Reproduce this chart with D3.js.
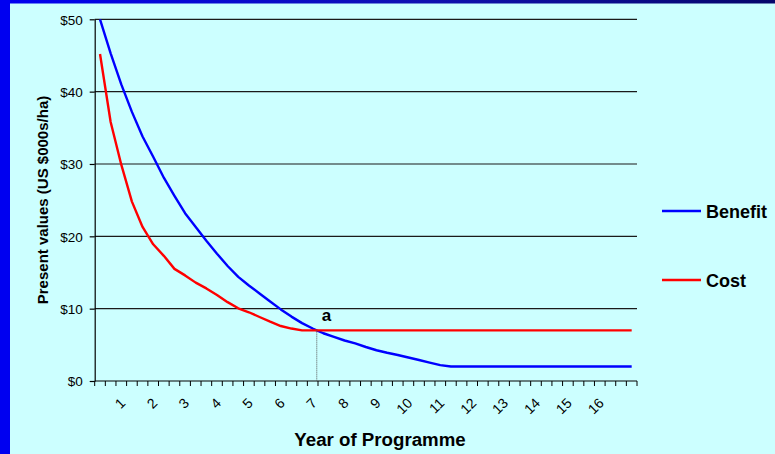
<!DOCTYPE html>
<html>
<head>
<meta charset="utf-8">
<script src="https://cdn.jsdelivr.net/npm/d3@7"></script>
<style>
  html, body { margin: 0; padding: 0; background: #ccffff; }
  svg { display: block; font-family: "Liberation Sans", Arial, sans-serif; }
</style>
</head>
<body>
<svg id="chart" width="775" height="454"></svg>
<script>
// Periods of the programme (three per year); only every third carries a year label
const periods = [
  "", "", "1", "", "", "2", "", "", "3", "", "", "4", "", "", "5", "", "",
  "6", "", "", "7", "", "", "8", "", "", "9", "", "", "10", "", "", "11",
  "", "", "12", "", "", "13", "", "", "14", "", "", "15", "", "", "16",
  "", "", ""
];

// Present value of benefits (US $000s/ha)
const benefit = [
  50, 45.3, 41.0, 37.2, 33.8, 31.0, 28.1, 25.6, 23.2, 21.3,
  19.4, 17.6, 15.9, 14.4, 13.2, 12.1, 11.0, 9.9, 8.9, 8.0,
  7.25, 6.6, 6.1, 5.6, 5.2, 4.7, 4.25, 3.9, 3.6, 3.25,
  2.9, 2.55, 2.2, 2.0, 2.0, 2.0, 2.0, 2.0, 2.0, 2.0,
  2.0, 2.0, 2.0, 2.0, 2.0, 2.0, 2.0, 2.0, 2.0, 2.0,
  2.0
];

// Present value of costs (US $000s/ha)
const cost = [
  45.2, 35.8, 29.9, 24.8, 21.3, 18.9, 17.3, 15.5, 14.6, 13.6,
  12.8, 11.9, 10.9, 10.05, 9.5, 8.85, 8.2, 7.6, 7.25, 7.0,
  7.0, 7.0, 7.0, 7.0, 7.0, 7.0, 7.0, 7.0, 7.0, 7.0,
  7.0, 7.0, 7.0, 7.0, 7.0, 7.0, 7.0, 7.0, 7.0, 7.0,
  7.0, 7.0, 7.0, 7.0, 7.0, 7.0, 7.0, 7.0, 7.0, 7.0,
  7.0
];

const yTicks = [0, 10, 20, 30, 40, 50];
const seriesNames = ["Benefit", "Cost"];
const seriesColors = ["#0000ff", "#ff0000"];

const svg = d3.select("#chart");

// Slide frame: blue strip on the left and along the top
const defs = svg.append("defs");
const grad = defs.append("linearGradient").attr("id", "topStrip")
  .attr("x1", "0%").attr("x2", "100%").attr("y1", "0%").attr("y2", "0%");
grad.append("stop").attr("offset", "0%").attr("stop-color", "#0000f0");
grad.append("stop").attr("offset", "55%").attr("stop-color", "#1010b0");
grad.append("stop").attr("offset", "100%").attr("stop-color", "#06066a");

svg.append("rect").attr("x", 0).attr("y", 0).attr("width", 775).attr("height", 454).attr("fill", "#ccffff");
svg.append("rect").attr("x", 0).attr("y", 0).attr("width", 775).attr("height", 3.5).attr("fill", "url(#topStrip)");
svg.append("rect").attr("x", 0).attr("y", 0).attr("width", 10).attr("height", 454).attr("fill", "#0000f0");

const plotLeft = 94.7, plotRight = 637, plotTop = 19.3, plotBottom = 381;

const x = d3.scaleBand().domain(d3.range(periods.length)).range([plotLeft, plotRight]).paddingInner(0).paddingOuter(0);
const cx = i => x(i) + x.bandwidth() / 2;
const y = d3.scaleLinear().domain([0, 50]).range([plotBottom, plotTop]);

// Horizontal gridlines
svg.append("g").selectAll("line").data(yTicks.filter(d => d > 0)).join("line")
  .attr("x1", plotLeft).attr("x2", plotRight)
  .attr("y1", d => y(d)).attr("y2", d => y(d))
  .attr("stroke", "#1a1a1a").attr("stroke-width", 1.2);

// Y axis
const yAxis = d3.axisLeft(y).tickValues(yTicks).tickSize(5).tickSizeOuter(0)
  .tickFormat(d => "$" + d);
const gy = svg.append("g").attr("transform", `translate(${plotLeft},0)`).call(yAxis);
gy.select(".domain").attr("stroke", "#000").attr("stroke-width", 1.2);
gy.selectAll(".tick line").attr("stroke", "#000").attr("stroke-width", 1.2);
gy.selectAll(".tick text").attr("font-size", 13.5).attr("fill", "#000")
  .attr("font-family", "'Liberation Sans', Arial, sans-serif").attr("x", -12).attr("dy", "0.36em");

// X axis: ticks at the boundaries of every period
const boundaries = d3.range(periods.length + 1).map(i => plotLeft + i * x.bandwidth());
const gx = svg.append("g");
gx.append("line").attr("x1", plotLeft).attr("x2", plotRight).attr("y1", plotBottom).attr("y2", plotBottom)
  .attr("stroke", "#000").attr("stroke-width", 1.2);
gx.selectAll("line.tk").data(boundaries).join("line").attr("class", "tk")
  .attr("x1", d => d).attr("x2", d => d).attr("y1", plotBottom).attr("y2", plotBottom + 5)
  .attr("stroke", "#000").attr("stroke-width", 1);
gx.selectAll("text").data(periods.map((p, i) => ({ p, i })).filter(d => d.p !== "")).join("text")
  .attr("transform", d => `translate(${cx(d.i) + 5},${404}) rotate(-45)`)
  .attr("text-anchor", "end")
  .attr("font-size", 14).attr("fill", "#000")
  .text(d => d.p);

// Series lines
const line = d3.line().x((d, i) => cx(i)).y(d => y(d));
[benefit, cost].forEach((vals, k) => {
  svg.append("path").datum(vals)
    .attr("d", line)
    .attr("fill", "none")
    .attr("stroke", seriesColors[k])
    .attr("stroke-width", 2.4)
    .attr("stroke-linejoin", "round");
});

// Break-even point where benefit falls to the cost level
let ix = null, iv = null;
for (let i = 0; i < benefit.length - 1; i++) {
  const d0 = benefit[i] - cost[i], d1 = benefit[i + 1] - cost[i + 1];
  if (d0 > 0 && d1 <= 0) {
    const t = d0 / (d0 - d1);
    ix = cx(i) + t * (cx(i + 1) - cx(i));
    iv = cost[i] + t * (cost[i + 1] - cost[i]);
    break;
  }
}
if (ix !== null) {
  svg.append("line")
    .attr("x1", ix).attr("x2", ix).attr("y1", y(iv)).attr("y2", plotBottom)
    .attr("stroke", "#555").attr("stroke-width", 1).attr("stroke-dasharray", "1,1");
  svg.append("text").attr("x", ix + 5).attr("y", y(iv) - 9)
    .attr("font-size", 17).attr("font-weight", "bold").attr("fill", "#000").text("a");
}

// Axis titles
svg.append("text")
  .attr("transform", "translate(48,200) rotate(-90)")
  .attr("text-anchor", "middle").attr("font-size", 15).attr("font-weight", "bold")
  .text("Present values (US $000s/ha)");
svg.append("text")
  .attr("x", 380).attr("y", 446)
  .attr("text-anchor", "middle").attr("font-size", 18.7).attr("font-weight", "bold")
  .text("Year of Programme");

// Legend
const legendY = [211, 280];
seriesNames.forEach((name, k) => {
  svg.append("line").attr("x1", 662).attr("x2", 701)
    .attr("y1", legendY[k]).attr("y2", legendY[k])
    .attr("stroke", seriesColors[k]).attr("stroke-width", 2.4);
  svg.append("text").attr("x", 706).attr("y", legendY[k] + 6.5)
    .attr("font-size", 18).attr("font-weight", "bold").attr("fill", "#000")
    .text(name);
});
</script>
</body>
</html>
